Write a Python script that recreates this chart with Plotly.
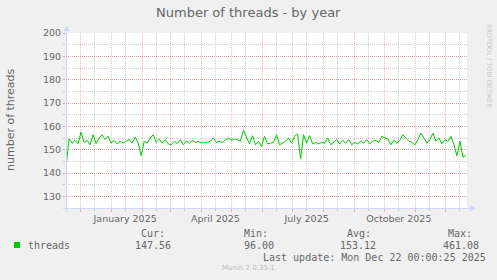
import plotly.graph_objects as go
import pandas as pd

# ---- data ----
start_date = "2024-11-17"
end_date = "2025-12-22"
step_days = 3
threads = [
    142.1, 154.6, 152.8, 154.0, 152.5, 157.5, 153.1, 154.0, 152.1, 156.4,
    152.6, 155.0, 156.4, 154.3, 155.7, 152.8, 154.0, 152.5, 153.6, 152.8,
    153.6, 154.3, 152.8, 155.4, 152.8, 147.4, 153.6, 152.8, 155.0, 156.4,
    153.1, 154.6, 152.8, 154.3, 152.5, 152.1, 153.6, 152.6, 154.3, 152.1,
    153.6, 152.8, 154.0, 153.1, 153.6, 152.8, 153.1, 153.1, 153.6, 155.0,
    153.1, 153.6, 153.1, 154.0, 155.0, 154.0, 154.6, 154.3, 153.6, 158.3,
    155.7, 152.5, 156.0, 152.1, 153.6, 151.4, 155.7, 152.5, 152.8, 153.1,
    156.4, 152.1, 152.8, 153.6, 155.0, 152.8, 155.7, 156.8, 146.0, 156.4,
    152.8, 156.0, 152.5, 153.1, 152.5, 153.1, 152.8, 155.0, 152.1, 153.1,
    154.3, 152.5, 154.0, 152.8, 154.3, 152.1, 153.1, 152.5, 153.6, 152.8,
    154.3, 152.5, 153.6, 154.0, 153.1, 155.7, 155.0, 154.6, 152.1, 154.0,
    152.8, 154.0, 156.4, 155.0, 153.6, 153.1, 152.1, 154.3, 157.1, 155.0,
    152.8, 154.3, 157.1, 153.6, 155.0, 152.5, 154.3, 153.6, 155.7, 152.1,
    147.4, 153.6, 146.8, 147.6,
]
month_starts = ["2024-12-01", "2025-01-01", "2025-02-01", "2025-03-01", "2025-04-01",
                "2025-05-01", "2025-06-01", "2025-07-01", "2025-08-01", "2025-09-01",
                "2025-10-01", "2025-11-01", "2025-12-01"]
mid_months = ["2024-12-15", "2025-01-15", "2025-02-15", "2025-03-15", "2025-04-15",
              "2025-05-15", "2025-06-15", "2025-07-15", "2025-08-15", "2025-09-15",
              "2025-10-15", "2025-11-15", "2025-12-15"]
mid_month_labels = ["", "January 2025", "", "", "April 2025", "", "", "July 2025",
                    "", "", "October 2025", "", ""]
y_ticks = [130, 140, 150, 160, 170, 180, 190, 200]
y_range = [125, 200]

title = "Number of threads - by year"
y_title = "number of threads"
legend_name = "threads"
stats_heads = ["Cur:", "Min:", "Avg:", "Max:"]
stats_vals = ["147.56", "96.00", "153.12", "461.08"]
last_update = "Last update: Mon Dec 22 00:00:25 2025"
footer = "Munin 2.0.33-1"
watermark = "RRDTOOL / TOBI OETIKER"

# ---- geometry ----
W, H = 497, 280
L, R, T, B = 66, 467, 33, 208
def px(x):
    return (x - L) / (R - L)
def py(y):
    return (B - y) / (B - T)

FONT = "#666666"
MGRID = "rgba(230,90,90,0.42)"
GRID = "rgba(143,143,143,0.42)"
AXIS = "#CFD6F8"

dates = pd.date_range(start_date, periods=len(threads), freq=f"{step_days}D")

fig = go.Figure()
fig.add_trace(go.Scatter(x=dates, y=threads, mode="lines",
                         line=dict(color="#00CC00", width=1), showlegend=False,
                         hoverinfo="skip"))

fig.update_layout(
    width=W, height=H,
    margin=dict(l=L, r=W - R, t=T, b=H - B, pad=0),
    paper_bgcolor="#F0F0F0", plot_bgcolor="#FFFFFF",
    font=dict(family="DejaVu Sans", color=FONT, size=10),
    showlegend=False,
    xaxis=dict(
        type="date", range=[start_date, end_date],
        tickmode="array", tickvals=mid_months, ticktext=mid_month_labels,
        showgrid=True, gridcolor=GRID, griddash="1px,1px", gridwidth=1,
        ticks="outside", ticklen=2, tickcolor=GRID, tickwidth=1,
        tickfont=dict(family="DejaVu Sans", size=9.5, color=FONT),
        showline=False, zeroline=False, fixedrange=True,
        minor=dict(tickvals=month_starts, showgrid=True, gridcolor=MGRID,
                   griddash="1px,1px", gridwidth=1, ticks="outside", ticklen=3,
                   tickcolor=MGRID),
    ),
    yaxis=dict(
        range=y_range, tickmode="array", tickvals=y_ticks,
        showgrid=True, gridcolor=MGRID, griddash="1px,1px", gridwidth=1,
        ticks="outside", ticklen=2, tickcolor=MGRID,
        tickfont=dict(family="DejaVu Sans", size=9.5, color=FONT),
        showline=False, zeroline=False, fixedrange=True,
        minor=dict(dtick=5, tick0=125, showgrid=True, gridcolor=GRID,
                   griddash="1px,1px", gridwidth=1, ticks="outside", ticklen=2,
                   tickcolor=GRID),
    ),
)

shapes = []
# axis lines + arrows
shapes.append(dict(type="line", xref="paper", yref="paper", x0=px(L + 0.5), x1=px(L + 0.5),
                   y0=py(212), y1=py(30), line=dict(color=AXIS, width=1)))
shapes.append(dict(type="line", xref="paper", yref="paper", x0=px(63), x1=px(471),
                   y0=py(B + 0.5), y1=py(B + 0.5), line=dict(color=AXIS, width=1)))
shapes.append(dict(type="path", xref="paper", yref="paper",
                   path=f"M {px(L-2.5)},{py(31)} L {px(L+3.5)},{py(31)} L {px(L+0.5)},{py(25)} Z",
                   fillcolor=AXIS, line=dict(color=AXIS, width=0)))
shapes.append(dict(type="path", xref="paper", yref="paper",
                   path=f"M {px(470)},{py(B-2.5)} L {px(470)},{py(B+3.5)} L {px(476)},{py(B+0.5)} Z",
                   fillcolor=AXIS, line=dict(color=AXIS, width=0)))
# legend colour box
shapes.append(dict(type="rect", xref="paper", yref="paper", x0=px(14), x1=px(20),
                   y0=py(248), y1=py(242), fillcolor="#00CC00", line=dict(width=0)))
fig.update_layout(shapes=shapes)

ann = []
def text(x, y, s, size, color=FONT, family="DejaVu Sans", xanchor="left", angle=0):
    ann.append(dict(x=px(x), y=py(y), xref="paper", yref="paper", text=s,
                    showarrow=False, xanchor=xanchor, yanchor="middle", textangle=angle,
                    font=dict(family=family, size=size, color=color), borderpad=0))

text(248.5, 13, title, 13, xanchor="center")
text(10, 120, y_title, 11, xanchor="center", angle=-90)
text(489, 66, watermark, 6.5, color="#C8C8C8", xanchor="center", angle=90)
MONO = "DejaVu Sans Mono"
text(26.7, 245.7, legend_name, 10, family=MONO)
head_x = [140, 243.3, 346, 447.3]
val_x = [134, 243.3, 339.3, 441.7]
for hx, h in zip(head_x, stats_heads):
    text(hx, 233.3, h, 10, family=MONO)
for vx, v in zip(val_x, stats_vals):
    text(vx, 245.7, v, 10, family=MONO)
text(261.7, 257.7, last_update, 10, family=MONO)
text(248, 268, footer, 7, color="#BBBBBB", xanchor="center")
fig.update_layout(annotations=ann)

fig.write_html("out.html")
